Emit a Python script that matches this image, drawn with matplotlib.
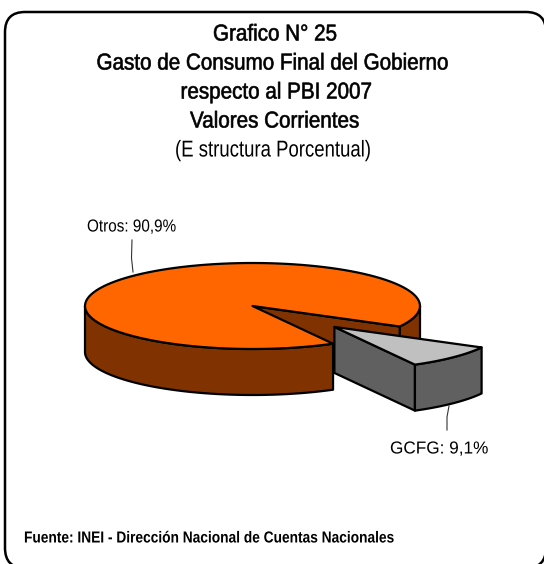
import numpy as np
import matplotlib
matplotlib.use('Agg')
import matplotlib.pyplot as plt
from matplotlib.patches import FancyBboxPatch, Polygon
from matplotlib.patheffects import AbstractPathEffect
from matplotlib.transforms import Affine2D

plt.rcParams['font.family'] = ['Liberation Sans', 'DejaVu Sans']

# --- data ---
slice_names = ['Otros', 'GCFG']
slice_values = [90.9, 9.1]
slice_labels = ['Otros: 90,9%', 'GCFG: 9,1%']
title_lines = ['Grafico N° 25', 'Gasto de Consumo Final del Gobierno',
               'respecto al PBI 2007', 'Valores Corrientes']
subtitle = '(E structura Porcentual)'
source = 'Fuente: INEI - Dirección Nacional de Cuentas Nacionales'

# --- pie geometry (pixels of the picture) ---
cx, cy = 252.5, 306
rx, ry = 167.5, 43
depth = 46
explode = 0.69
gcfg_start = 28.5

ORANGE = '#FF6600'
BROWN = '#803300'
LIGHT_GRAY = '#C0C0C0'
DARK_GRAY = '#606060'


class Squeeze(AbstractPathEffect):
    # reference text is a squeezed, slightly heavy Arial: no narrow font here
    def __init__(self, sx, stroke=0.0):
        super().__init__()
        self.sx = sx
        self.stroke = stroke

    def draw_path(self, renderer, gc, tpath, affine, rgbFace=None):
        gc0 = renderer.new_gc()
        gc0.copy_properties(gc)
        gc0.set_linewidth(self.stroke)
        gc0.set_foreground('black')
        renderer.draw_path(gc0, tpath, Affine2D().scale(self.sx, 1) + affine, rgbFace)
        gc0.restore()


def rim(t0, t1, ox=0, oy=0):
    t = np.radians(np.linspace(t0, t1, 120))
    return np.column_stack([cx + ox + rx * np.cos(t), cy + oy + ry * np.sin(t)])


fig = plt.figure(figsize=(5.44, 5.64), dpi=100)
ax = fig.add_axes([0, 0, 1, 1])
ax.set_xlim(0, 544)
ax.set_ylim(564, 0)
ax.axis('off')

# rounded frame, runs off the right and bottom of the picture
ax.add_patch(FancyBboxPatch((5, 12), 541, 556, boxstyle='round,pad=0,rounding_size=20',
                            fc='white', ec='black', lw=1.8))

sweep = slice_values[1] / sum(slice_values) * 360
gcfg_end = gcfg_start + sweep
mid = np.radians(gcfg_start + sweep / 2)
ox = explode * rx * np.cos(mid)
oy = explode * ry * np.sin(mid)
edge = dict(ec='black', lw=1.6, joinstyle='round')

# main slice: outer wall right of the gap
right_rim = rim(0, gcfg_start)
ax.add_patch(Polygon(np.vstack([right_rim, (right_rim + [0, depth])[::-1]]), fc=BROWN, **edge))
# inner wall seen through the gap
p1 = rim(gcfg_start, gcfg_start)[0]
ax.add_patch(Polygon([(cx, cy), p1, p1 + [0, depth], (cx, cy + depth)], fc=BROWN, **edge))

# exploded slice: walls and top
tip = np.array([cx + ox, cy + oy])
gcfg_rim = rim(gcfg_start, gcfg_end, ox, oy)
ax.add_patch(Polygon([tip, gcfg_rim[-1], gcfg_rim[-1] + [0, depth], tip + [0, depth]], fc=DARK_GRAY, **edge))
ax.add_patch(Polygon(np.vstack([gcfg_rim, (gcfg_rim + [0, depth])[::-1]]), fc=DARK_GRAY, **edge))
ax.add_patch(Polygon(np.vstack([[tip], gcfg_rim]), fc=LIGHT_GRAY, **edge))

# main slice: front outer wall and top
front_rim = rim(gcfg_end, 180)
ax.add_patch(Polygon(np.vstack([front_rim, (front_rim + [0, depth])[::-1]]), fc=BROWN, **edge))
ax.add_patch(Polygon(np.vstack([[(cx, cy)], rim(gcfg_end, gcfg_start + 360)]), fc=ORANGE, **edge))

# leader lines
ax.plot([133, 131.5, 132], [272, 258, 240], color='#333333', lw=0.8)
ax.plot([449, 447, 447], [406, 417, 430], color='#333333', lw=0.8)

# --- text ---
title_x = [213, 96.5, 180.5, 190]
title_y = [34, 63, 92, 121]
for line, x, y in zip(title_lines, title_x, title_y):
    ax.text(x, y, line, ha='left', va='center', fontsize=16.5,
            path_effects=[Squeeze(0.9, 0.45)])
ax.text(175, 150, subtitle, ha='left', va='center', fontsize=16.5,
        path_effects=[Squeeze(0.81)])
ax.text(87, 227, slice_labels[0], ha='left', va='center', fontsize=12.5,
        path_effects=[Squeeze(0.88)])
ax.text(390, 449, slice_labels[1], ha='left', va='center', fontsize=12.5,
        path_effects=[Squeeze(0.99)])
ax.text(24, 538, source, ha='left', va='center', fontsize=11.5, fontweight='bold',
        path_effects=[Squeeze(0.86)])

fig.savefig('out.png', dpi=100)
